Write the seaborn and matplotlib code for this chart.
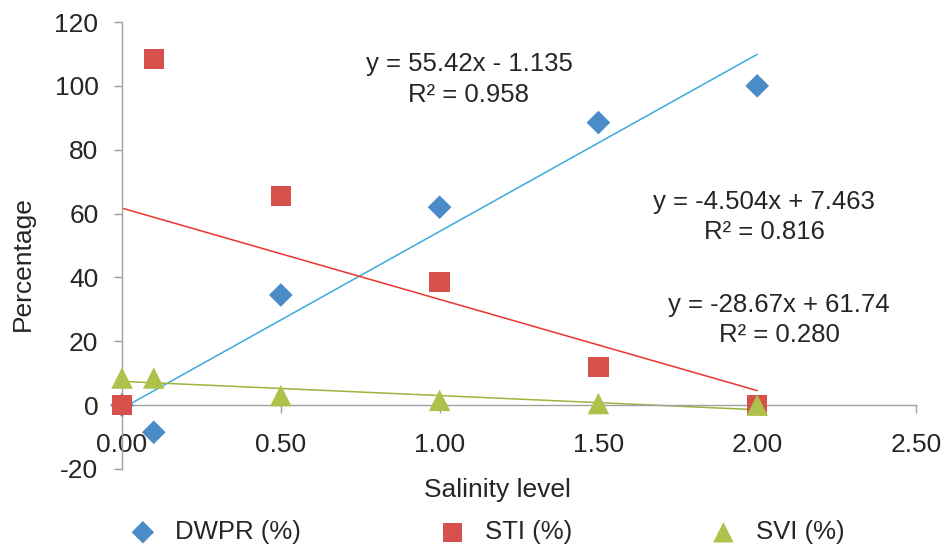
import numpy as np
import pandas as pd
import matplotlib
matplotlib.use('Agg')
import matplotlib.pyplot as plt
import seaborn as sns

# Data
salinity = [0.0, 0.1, 0.5, 1.0, 1.5, 2.0]
dwpr = [0.0, -8.5, 34.5, 62.0, 88.5, 100.0]
sti = [0.0, 108.5, 65.5, 38.5, 12.0, 0.0]
svi = [8.5, 8.5, 3.0, 1.5, 0.5, 0.0]

eq_dwpr = ['y = 55.42x - 1.135', 'R² = 0.958']
eq_svi = ['y = -4.504x + 7.463', 'R² = 0.816']
eq_sti = ['y = -28.67x + 61.74', 'R² = 0.280']

df = pd.DataFrame({'Salinity level': salinity, 'DWPR (%)': dwpr,
                   'STI (%)': sti, 'SVI (%)': svi})

sns.set_style('white')
plt.rcParams['font.family'] = ['Liberation Sans', 'DejaVu Sans']
plt.rcParams['axes.unicode_minus'] = False

W, H = 945, 546
fig = plt.figure(figsize=(9.45, 5.46), dpi=100)
ax = fig.add_axes([122 / W, 1 - 469 / H, (916 - 122) / W, (469 - 22) / H])

series = [
    ('DWPR (%)', 'D', '#4A8BC8', '#3DA8DF', 145),
    ('STI (%)', 's', '#D6504C', '#E8352F', 215),
    ('SVI (%)', '^', '#AEC14A', '#9DB43E', 240),
]

# trendlines first, markers on top
for col, mk, mcol, lcol, size in series:
    sns.regplot(data=df, x='Salinity level', y=col, ax=ax, scatter=False,
                ci=None, truncate=True, line_kws={'color': lcol, 'lw': 1.1})

for col, mk, mcol, lcol, size in series:
    sns.scatterplot(data=df, x='Salinity level', y=col, ax=ax, marker=mk,
                    s=size, color=mcol, edgecolor='none', label=col,
                    zorder=3, clip_on=False)

ax.set_xlim(0, 2.5)
ax.set_ylim(-20, 120)
ax.set_xticks(np.arange(0, 2.51, 0.5))
ax.set_xticklabels([f'{v:.2f}' for v in np.arange(0, 2.51, 0.5)])
ax.set_yticks(range(-20, 121, 20))

for s in ['top', 'right']:
    ax.spines[s].set_visible(False)
ax.spines['bottom'].set_position(('data', 0))
for s in ['left', 'bottom']:
    ax.spines[s].set_color('#A0A0A0')
    ax.spines[s].set_linewidth(1.0)

ax.tick_params(axis='both', direction='out', length=6, color='#A0A0A0',
               labelsize=19, width=1.0)
ax.tick_params(axis='y', pad=11, left=True)
ax.tick_params(axis='x', pad=14, bottom=True)

ax.set_xlabel('')
ax.set_ylabel('')
fig.text(497 / W, 1 - 490 / H, 'Salinity level', ha='center', va='center', fontsize=19)
fig.text(23 / W, 1 - 264 / H, 'Percentage', ha='center', va='center',
         rotation=90, fontsize=19)

# trendline equations
for (x0, y1, y2), lines in [((469, 64, 95), eq_dwpr), ((764, 202, 232), eq_svi),
                            ((779, 305, 335), eq_sti)]:
    fig.text(x0 / W, 1 - y1 / H, lines[0], ha='center', va='center', fontsize=18.5)
    fig.text(x0 / W, 1 - y2 / H, lines[1], ha='center', va='center', fontsize=18.5)

handles, labels = ax.get_legend_handles_labels()
ax.get_legend().remove()
fig.legend(handles, labels, loc='center left', bbox_to_anchor=(130 / W, 1 - 532 / H),
           ncol=3, frameon=False, fontsize=18.5, columnspacing=5.4,
           handlelength=1.0, handletextpad=0.75, borderpad=0, borderaxespad=0,
           markerscale=0.95)

fig.savefig('out.png', dpi=100)
